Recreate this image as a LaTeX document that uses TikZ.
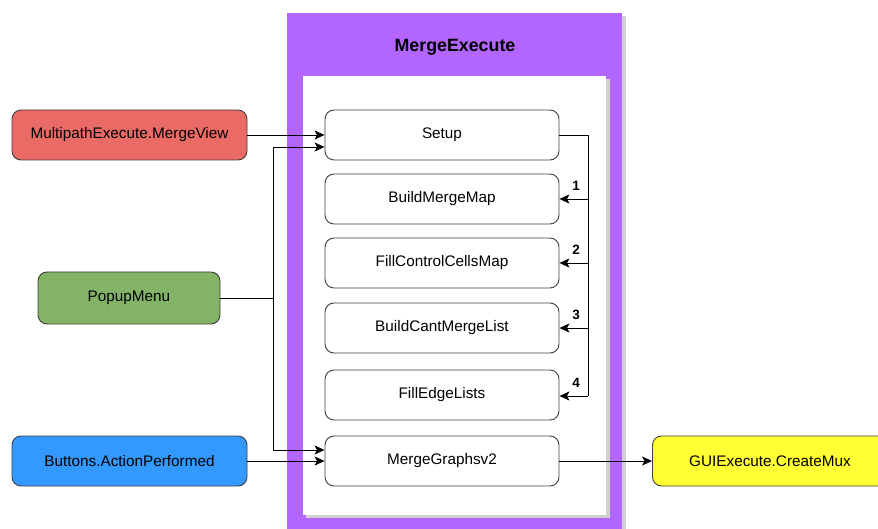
\documentclass[tikz,border=0pt]{standalone}
\usepackage{fontspec}
\setmainfont{Liberation Sans}
\usetikzlibrary{arrows.meta}
\definecolor{frameviolet}{HTML}{B266FF}
\definecolor{shadowgrey}{HTML}{D0D0D0}
\definecolor{redfill}{HTML}{EA6B66}
\definecolor{greenfill}{HTML}{82B366}
\definecolor{bluefill}{HTML}{3399FF}
\definecolor{yellowfill}{HTML}{FFFF33}
\tikzset{
  fn/.style={draw=black!75, line width=0.9pt, rounded corners=9pt, minimum height=50pt,
    font=\fontsize{15.3}{18}\selectfont, inner sep=0pt},
  step box/.style={fn, fill=white, minimum width=234pt},
  side box/.style={fn, minimum width=235pt},
  link/.style={draw=black, line width=0.9pt, -{Stealth[length=10pt,width=9pt,inset=2.5pt]}},
  wire/.style={draw=black, line width=0.9pt},
  num/.style={font=\bfseries\fontsize{13.5}{16}\selectfont, inner sep=0pt}
}
\begin{document}
\begin{tikzpicture}[x=1pt,y=-1pt]
\useasboundingbox (0,0) rectangle (878,529);
% container with its shadow
\fill[shadowgrey] (290,16) rectangle (626,529);
\fill[frameviolet] (287,13) rectangle (622,529);
\fill[shadowgrey] (306,79) rectangle (610,518);
\fill[white] (303,76) rectangle (606,515);
\node[font=\bfseries\fontsize{17.8}{21}\selectfont] (title) at (455,47) {MergeExecute};

% steps inside the container
\node[step box] (setup) at (442,135) {Setup};
\node[step box] (bmm) at (442,199) {BuildMergeMap};
\node[step box] (fccm) at (442,263) {FillControlCellsMap};
\node[step box] (bcml) at (442,328) {BuildCantMergeList};
\node[step box] (fel) at (442,395) {FillEdgeLists};
\node[step box] (mg) at (442,461) {MergeGraphsv2};

% callers and callee
\node[side box, fill=redfill] (mp) at (129.5,135) {MultipathExecute.MergeView};
\node[fn, fill=greenfill, minimum width=182pt, minimum height=52pt] (pm) at (129,298) {PopupMenu};
\node[side box, fill=bluefill] (bt) at (129.5,461) {Buttons.ActionPerformed};
\node[side box, fill=yellowfill] (gui) at (770,461) {GUIExecute.CreateMux};

% incoming calls
\draw[link] (mp.east) -- (setup.west);
\coordinate (pj) at (273,298);
\draw[wire] (pm.east) -- (pj);
\draw[link] (pj) |- ([yshift=-12pt]setup.west);
\draw[link] (pj) |- ([yshift=11pt]mg.west);
\draw[link] (bt.east) -- (mg.west);
\draw[link] (mg.east) -- (gui.west);

% sequence of steps
\coordinate (bus) at (588,135);
\draw[wire] (setup.east) -- (bus) -- (588,396);
\draw[link] (588,199) -- (bmm.east);
\draw[link] (588,263) -- (fccm.east);
\draw[link] (588,328) -- (bcml.east);
\draw[link] (588,396) -- ([yshift=-1pt]fel.east);
\node[num] (n1) at (576,186) {1};
\node[num] (n2) at (576,250) {2};
\node[num] (n3) at (576,315) {3};
\node[num] (n4) at (576,383) {4};
\end{tikzpicture}
\end{document}
